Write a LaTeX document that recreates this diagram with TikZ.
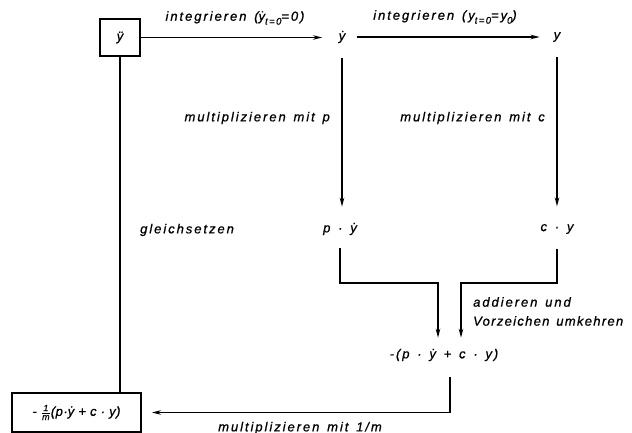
\documentclass[tikz,border=0pt]{standalone}
\usepackage{fontspec}
\usetikzlibrary{arrows.meta}
\setmainfont{Liberation Sans}
\newfontfamily\lett{Liberation Sans}[LetterSpace=15,WordSpace=1.4,FakeBold=0.8]
\newfontfamily\lettn{Liberation Sans}[LetterSpace=10,WordSpace=1.4,FakeBold=0.8]
\newfontfamily\tight{Liberation Sans}[LetterSpace=4,FakeBold=0.8]
% y with a dot above (first derivative)
\newcommand\ydot{\accent"02D9 y}
% lowered index in a smaller size
\newcommand\idx[1]{\raisebox{-0.3em}{\fontsize{9.5}{10}\selectfont #1}}
\begin{document}
\begin{tikzpicture}[x=1pt,y=-1pt,
  lbl/.style={font=\lett\itshape\fontsize{13}{15}\selectfont, inner sep=0pt},
  lbln/.style={lbl, font=\lettn\itshape\fontsize{13}{15}\selectfont},
  frame/.style={lbl, draw, line width=2pt},
  conn/.style={line width=1.3pt},
  arr/.style={conn, -{Stealth[length=9pt,width=4.5pt]}}]
\useasboundingbox (0,0) rectangle (632,433);

% quantities
\node[frame, minimum width=40pt, minimum height=37pt] (ydd) at (120,37.5) {ÿ};
\node[lbl] (yd) at (342,37) {\ydot};
\node[lbl] (y) at (557,37) {y};
\node[lbl] (pyd) at (340,229) {p · \ydot};
\node[lbl] (cy) at (557,229) {c · y};
\node[lbl] (sum) at (444,355) {-(p · \ydot{} + c · y)};
\node[frame, font=\tight\itshape\fontsize{13}{15}\selectfont,
      minimum width=129pt, minimum height=39pt] (res) at (76.5,412.5)
  {- $\frac{\mbox{\tight\itshape\small 1}}{\mbox{\tight\itshape\small m}}$(p·\ydot{} + c · y)};

% operation labels
\node[lbl] (l1) at (235,18) {integrieren (\ydot\idx{t=0}=0)};
\node[lbl] (l2) at (445,17) {integrieren (y\idx{t=0}=y\idx{0})};
\node[lbl, anchor=east] (l3) at (330,118) {multiplizieren mit p};
\node[lbl, anchor=east] (l4) at (545,118) {multiplizieren mit c};
\node[lbl, anchor=west] (l5) at (140,230) {gleichsetzen};
\node[lbl, anchor=west] (l6) at (473,302) {addieren und};
\node[lbln, anchor=west] (l7) at (473,321) {Vorzeichen umkehren};
\node[lbl] (l8) at (300,428) {multiplizieren mit 1/m};

% junction points above the sum
\coordinate (jl) at (438,283);
\coordinate (jr) at (461,283);

% connectors
\draw[arr, shorten >=16.5pt] (ydd.east) -- (ydd.east -| yd.west);
\draw[arr, shorten <=11.5pt, shorten >=14pt] (yd.east) -- (y.west);
\draw[arr, shorten <=15pt, shorten >=16pt] (yd.south) -- (yd.south |- pyd.north);
\draw[arr, shorten <=15.5pt, shorten >=17.5pt] (y.south) -- (y.south |- cy.north);
\draw[arr, shorten <=13pt, shorten >=11pt] (pyd.south) |- (jl) -- (jl |- sum.north);
\draw[arr, shorten <=14.5pt, shorten >=11pt] (cy.south) |- (jr) -- (jr |- sum.north);
\draw[arr, shorten <=16pt, shorten >=10pt] ([xshift=6pt]sum.south) |- (res.east);
\draw[conn] (ydd.south) -- (ydd.south |- res.north);
\end{tikzpicture}
\end{document}
